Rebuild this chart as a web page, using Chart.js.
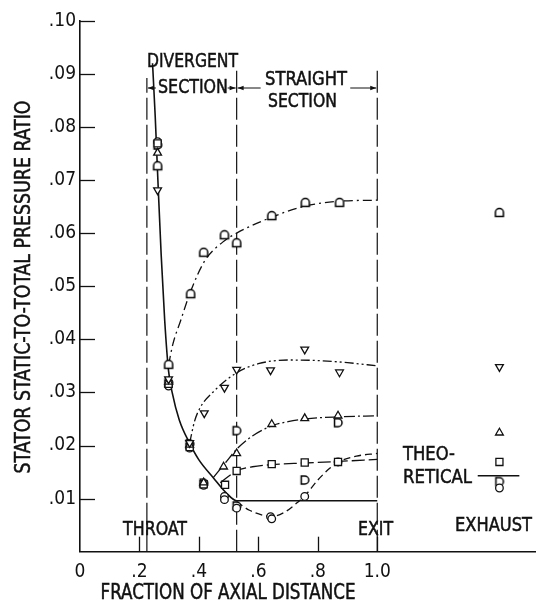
<!DOCTYPE html>
<html>
<head>
<meta charset="utf-8">
<script src="https://cdn.jsdelivr.net/npm/chart.js@4.4.1/dist/chart.umd.min.js"></script>
<style>
  html, body { margin: 0; padding: 0; background: #fff; }
</style>
</head>
<body>
<canvas id="myChart" width="542" height="603"></canvas>
<script>
// axis ticks
const xTicks = [0, 0.2, 0.4, 0.6, 0.8, 1.0];
const xTickLabels = ["0", ".2", ".4", ".6", ".8", "1.0"];
const yTicks = [0.01, 0.02, 0.03, 0.04, 0.05, 0.06, 0.07, 0.08, 0.09, 0.10];
const yTickLabels = [".01", ".02", ".03", ".04", ".05", ".06", ".07", ".08", ".09", ".10"];

// throat, end of divergent section, exit
const sectionEdges = [0.225, 0.527, 1.0];
const sectionTops = [0.0892, 0.0912, 0.0910];

// measured points, one list per symbol (last value = exhaust)
const archX = [0.261, 0.298, 0.372, 0.416, 0.486, 0.527, 0.645, 0.758, 0.873, 1.411];
const archY = [0.0726, 0.0352, 0.0485, 0.0563, 0.0596, 0.0581, 0.0632, 0.0657, 0.0657, 0.0638];
const downX = [0.261, 0.298, 0.369, 0.418, 0.486, 0.527, 0.641, 0.756, 0.873, 1.411];
const downY = [0.0681, 0.0325, 0.0205, 0.0261, 0.0309, 0.0343, 0.0342, 0.0381, 0.0338, 0.0348];
const upX = [0.261, 0.298, 0.369, 0.416, 0.483, 0.527, 0.645, 0.756, 0.868, 1.411];
const upY = [0.0751, 0.0320, 0.0201, 0.0130, 0.0160, 0.0185, 0.0240, 0.0251, 0.0256, 0.0224];
const squareX = [0.261, 0.298, 0.369, 0.416, 0.488, 0.527, 0.645, 0.756, 0.868, 1.411];
const squareY = [0.0769, 0.0316, 0.0197, 0.0127, 0.0126, 0.0152, 0.0165, 0.0168, 0.0169, 0.0169];
const circleX = [0.261, 0.298, 0.369, 0.416, 0.486, 0.486, 0.527, 0.641, 0.645, 0.756, 0.868, 1.411];
const circleY = [0.0772, 0.0312, 0.0195, 0.0125, 0.0104, 0.0098, 0.0082, 0.0066, 0.0062, 0.0104, 0.0169, 0.0120];
const deeX = [0.261, 0.298, 0.369, 0.416, 0.527, 0.527, 0.756, 0.868, 1.411];
const deeY = [0.0766, 0.0318, 0.0203, 0.0129, 0.0228, 0.0086, 0.0135, 0.0243, 0.0132];

// faired curves
const theoryX = [0.244, 0.253, 0.262, 0.273, 0.285, 0.298, 0.310, 0.334, 0.369, 0.400, 0.449, 0.490, 0.527, 1.0];
const theoryY = [0.0920, 0.0820, 0.0700, 0.0560, 0.0435, 0.0340, 0.0300, 0.0248, 0.0204, 0.0173, 0.0139, 0.0112, 0.0096, 0.0096];
const archCurveX = [0.298, 0.312, 0.339, 0.372, 0.420, 0.480, 0.527, 0.645, 0.758, 0.873, 1.0];
const archCurveY = [0.0352, 0.0390, 0.0436, 0.0490, 0.0548, 0.0583, 0.0600, 0.0630, 0.0651, 0.0660, 0.0662];
const downCurveX = [0.369, 0.385, 0.405, 0.450, 0.527, 0.600, 0.700, 0.800, 0.900, 1.0];
const downCurveY = [0.0205, 0.0245, 0.0272, 0.0302, 0.0337, 0.0354, 0.0361, 0.0360, 0.0356, 0.0350];
const upCurveX = [0.449, 0.490, 0.527, 0.580, 0.645, 0.700, 0.756, 0.870, 1.0];
const upCurveY = [0.0140, 0.0168, 0.0193, 0.0218, 0.0237, 0.0245, 0.0250, 0.0254, 0.0256];
const squareCurveX = [0.472, 0.500, 0.527, 0.580, 0.645, 0.756, 0.870, 1.0];
const squareCurveY = [0.0130, 0.0142, 0.0152, 0.0160, 0.0164, 0.0167, 0.0170, 0.0174];
const circleCurveX = [0.527, 0.570, 0.620, 0.645, 0.690, 0.730, 0.756, 0.800, 0.840, 0.870, 0.930, 1.0];
const circleCurveY = [0.0094, 0.0078, 0.0068, 0.0066, 0.0075, 0.0092, 0.0105, 0.0135, 0.0157, 0.0169, 0.0180, 0.0185];
const exhaustTheoryX = [1.338, 1.478];
const exhaustTheoryY = [0.0143, 0.0143];

const INK = "#111";
const FONT = '"DejaVu Sans Condensed", "Liberation Sans Narrow", "DejaVu Sans", sans-serif';

const pts = (xs, ys) => xs.map((x, i) => ({ x: x, y: ys[i] }));

// flagged symbols drawn on small canvases
function marker(kind) {
  const c = document.createElement("canvas");
  c.width = 12; c.height = 12;
  const g = c.getContext("2d");
  g.strokeStyle = "#000"; g.fillStyle = "#fff"; g.lineWidth = 1.5;
  g.beginPath();
  if (kind === "arch") {
    g.arc(6, 5.5, 4, Math.PI, 0);
    g.lineTo(10, 9.5);
    g.lineTo(2, 9.5);
    g.closePath();
  } else {
    g.moveTo(2.5, 2);
    g.lineTo(6, 2);
    g.arc(6, 6, 4, -Math.PI / 2, Math.PI / 2);
    g.lineTo(2.5, 10);
    g.closePath();
  }
  g.fill(); g.stroke();
  return c;
}

function markSet(data, style, radius, rotation) {
  return {
    data: data, showLine: false, order: 0,
    pointStyle: style, pointRadius: radius, pointHoverRadius: radius,
    rotation: rotation || 0,
    pointBackgroundColor: "#fff", pointBorderColor: INK, pointBorderWidth: 1.3
  };
}

function curveSet(data, dash, width) {
  return {
    data: data, showLine: true, order: 1,
    pointRadius: 0, pointHoverRadius: 0,
    borderColor: INK, borderWidth: width || 1.3, borderDash: dash,
    cubicInterpolationMode: "monotone", fill: false
  };
}

const datasets = [
  markSet(pts(archX, archY), marker("arch"), 5),
  markSet(pts(downX, downY), "triangle", 4.5, 180),
  markSet(pts(upX, upY), "triangle", 4.5),
  markSet(pts(squareX, squareY), "rect", 5),
  markSet(pts(circleX, circleY), "circle", 3.8),
  markSet(pts(deeX, deeY), marker("dee"), 5),
  curveSet(pts(theoryX, theoryY), [], 1.6),
  curveSet(pts(archCurveX, archCurveY), [9, 4, 2, 4]),
  curveSet(pts(downCurveX, downCurveY), [9, 3, 2, 3, 2, 3]),
  curveSet(pts(upCurveX, upCurveY), [11, 3, 2, 3]),
  curveSet(pts(squareCurveX, squareCurveY), [13, 4]),
  curveSet(pts(circleCurveX, circleCurveY), [7, 4]),
  curveSet(pts(exhaustTheoryX, exhaustTheoryY), [], 1.4)
];

sectionEdges.forEach((e, i) => {
  datasets.push({
    data: [{ x: e, y: 0 }, { x: e, y: sectionTops[i] }],
    showLine: true, order: 2, pointRadius: 0, pointHoverRadius: 0,
    borderColor: INK, borderWidth: 1.2, borderDash: [22, 5], tension: 0
  });
});

function txt(ctx, s, cx, cy, size, w, rot) {
  ctx.save();
  ctx.font = size + "px " + FONT;
  const m = ctx.measureText(s).width;
  ctx.translate(cx, cy);
  if (rot) ctx.rotate(rot);
  ctx.scale(w / m, 1);
  ctx.textAlign = "center";
  ctx.textBaseline = "middle";
  ctx.fillStyle = INK;
  ctx.strokeStyle = INK;
  ctx.lineWidth = 0.5;
  ctx.fillText(s, 0, 0);
  ctx.strokeText(s, 0, 0);
  ctx.restore();
}

function arrow(ctx, from, to, y) {
  const d = Math.sign(to - from);
  ctx.beginPath();
  ctx.moveTo(from, y); ctx.lineTo(to, y); ctx.stroke();
  ctx.beginPath();
  ctx.moveTo(to, y);
  ctx.lineTo(to - d * 6, y - 2.2);
  ctx.lineTo(to - d * 6, y + 2.2);
  ctx.closePath(); ctx.fill();
}

const decor = {
  id: "decor",
  afterDraw(chart) {
    const ctx = chart.ctx;
    const a = chart.chartArea;
    const xs = chart.scales.x, ys = chart.scales.y;
    ctx.save();
    ctx.strokeStyle = INK; ctx.fillStyle = INK; ctx.lineWidth = 1.3;

    // inward tick marks
    yTicks.forEach(v => {
      const py = Math.round(ys.getPixelForValue(v)) + 0.5;
      ctx.beginPath(); ctx.moveTo(a.left, py); ctx.lineTo(a.left + 15, py); ctx.stroke();
    });
    xTicks.slice(1).forEach(v => {
      const px = Math.round(xs.getPixelForValue(v)) + 0.5;
      ctx.beginPath(); ctx.moveTo(px, a.bottom); ctx.lineTo(px, a.bottom - 15); ctx.stroke();
    });

    // section dimension marks
    const pThroat = xs.getPixelForValue(sectionEdges[0]);
    const pDiv = xs.getPixelForValue(sectionEdges[1]);
    const pExit = xs.getPixelForValue(sectionEdges[2]);
    ctx.lineWidth = 1;
    arrow(ctx, pThroat + 9, pThroat + 1, 88);
    arrow(ctx, pDiv - 9, pDiv - 1, 88);
    arrow(ctx, pDiv + 24, pDiv + 1, 88);
    arrow(ctx, pExit - 27, pExit - 1, 88);

    // labels
    txt(ctx, "DIVERGENT", 192.5, 62, 20, 91);
    txt(ctx, "SECTION", 193, 88, 20, 70);
    txt(ctx, "STRAIGHT", 306, 80, 20, 82);
    txt(ctx, "SECTION", 302.5, 102, 20, 69);
    txt(ctx, "THROAT", 155, 530, 20, 64);
    txt(ctx, "EXIT", 375.5, 530, 20, 35);
    txt(ctx, "EXHAUST", 493.5, 526, 20, 77);
    txt(ctx, "THEO-", 429, 455, 20, 52);
    txt(ctx, "RETICAL", 437.5, 478, 20, 69);
    txt(ctx, "STATOR STATIC-TO-TOTAL PRESSURE RATIO", 24, 287, 22, 373, -Math.PI / 2);
    txt(ctx, "FRACTION OF AXIAL DISTANCE", 228, 594, 21, 255);
    ctx.restore();
  }
};

const ctx = document.getElementById("myChart");

new Chart(ctx, {
  type: "scatter",
  data: { datasets: datasets },
  options: {
    responsive: false,
    animation: false,
    devicePixelRatio: 1,
    layout: { padding: { top: 20.7, right: 0, left: 0, bottom: 0 } },
    plugins: { legend: { display: false }, tooltip: { enabled: false } },
    scales: {
      x: {
        type: "linear", min: 0, max: 1.533,
        afterBuildTicks: s => { s.ticks = xTicks.map(v => ({ value: v })); },
        afterFit: s => { s.height = 51.3; },
        ticks: {
          color: INK, padding: 9, maxRotation: 0, autoSkip: false,
          font: { family: FONT, size: 19 },
          callback: (v, i) => xTickLabels[i]
        },
        grid: { display: true, drawOnChartArea: false, drawTicks: false },
        border: { display: true, color: INK, width: 1.6 }
      },
      y: {
        type: "linear", min: 0, max: 0.10,
        afterBuildTicks: s => { s.ticks = yTicks.map(v => ({ value: v })); },
        afterFit: s => { s.width = 80; },
        ticks: {
          color: INK, padding: 4, autoSkip: false,
          font: { family: FONT, size: 19 },
          callback: (v, i) => yTickLabels[i]
        },
        grid: { display: true, drawOnChartArea: false, drawTicks: false },
        border: { display: true, color: INK, width: 1.6 }
      }
    }
  },
  plugins: [decor]
});
</script>
</body>
</html>
